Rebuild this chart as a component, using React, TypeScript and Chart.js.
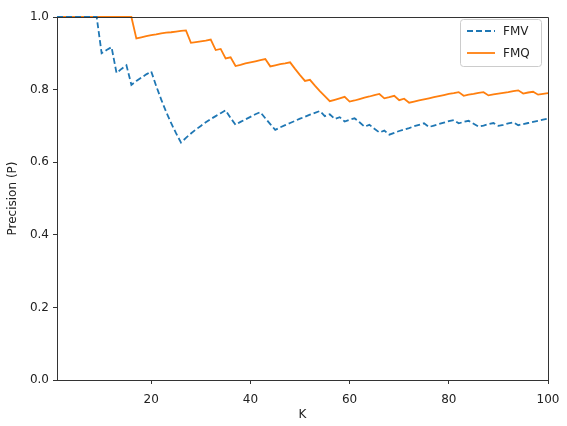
import React, { useEffect, useRef } from 'react';
import { Chart, registerables } from 'chart.js';

Chart.register(...registerables);

const kValues = [
  1, 2, 3, 4, 5, 6, 7, 8, 9, 10, 11, 12, 13, 14, 15, 16, 17, 18, 19, 20,
  21, 22, 23, 24, 25, 26, 27, 28, 29, 30, 31, 32, 33, 34, 35, 36, 37, 38, 39, 40,
  41, 42, 43, 44, 45, 46, 47, 48, 49, 50, 51, 52, 53, 54, 55, 56, 57, 58, 59, 60,
  61, 62, 63, 64, 65, 66, 67, 68, 69, 70, 71, 72, 73, 74, 75, 76, 77, 78, 79, 80,
  81, 82, 83, 84, 85, 86, 87, 88, 89, 90, 91, 92, 93, 94, 95, 96, 97, 98, 99, 100,
];

const fmvValues = [
  1, 1, 1, 1, 1, 1, 1, 1, 1, 0.9,
  0.909, 0.917, 0.846, 0.857, 0.867, 0.813, 0.824, 0.833, 0.842, 0.85,
  0.81, 0.773, 0.739, 0.708, 0.68, 0.654, 0.667, 0.679, 0.69, 0.7,
  0.71, 0.719, 0.727, 0.735, 0.743, 0.722, 0.703, 0.711, 0.718, 0.725,
  0.732, 0.738, 0.721, 0.705, 0.689, 0.696, 0.702, 0.708, 0.714, 0.72,
  0.725, 0.731, 0.736, 0.741, 0.727, 0.732, 0.719, 0.724, 0.712, 0.717,
  0.721, 0.71, 0.698, 0.703, 0.692, 0.682, 0.687, 0.676, 0.681, 0.686,
  0.69, 0.694, 0.699, 0.703, 0.707, 0.697, 0.701, 0.705, 0.709, 0.713,
  0.716, 0.707, 0.711, 0.714, 0.706, 0.698, 0.701, 0.705, 0.708, 0.7,
  0.703, 0.707, 0.71, 0.702, 0.705, 0.708, 0.711, 0.714, 0.717, 0.72,
];

const fmqValues = [
  1, 1, 1, 1, 1, 1, 1, 1, 1, 1,
  1, 1, 1, 1, 1, 1, 0.941, 0.944, 0.947, 0.95,
  0.952, 0.955, 0.957, 0.958, 0.96, 0.962, 0.963, 0.929, 0.931, 0.933,
  0.935, 0.938, 0.909, 0.912, 0.886, 0.889, 0.865, 0.868, 0.872, 0.875,
  0.878, 0.881, 0.884, 0.864, 0.867, 0.87, 0.872, 0.875, 0.857, 0.84,
  0.824, 0.827, 0.811, 0.796, 0.782, 0.768, 0.772, 0.776, 0.78, 0.767,
  0.77, 0.774, 0.778, 0.781, 0.785, 0.788, 0.776, 0.779, 0.783, 0.771,
  0.775, 0.764, 0.767, 0.77, 0.773, 0.776, 0.779, 0.782, 0.785, 0.788,
  0.79, 0.793, 0.783, 0.786, 0.788, 0.791, 0.793, 0.784, 0.787, 0.789,
  0.791, 0.793, 0.796, 0.798, 0.789, 0.792, 0.794, 0.786, 0.788, 0.79,
];

const xTickValues = [20, 40, 60, 80, 100];
const seriesNames = ['FMV', 'FMQ'];
const seriesColors = ['#1f77b4', '#ff7f0e'];
const seriesDashes: number[][] = [[6, 3], []];

const TEXT_COLOR = '#222';
const AXIS_COLOR = '#333';
const FONT = 'DejaVu Sans';

const framePlugin = {
  id: 'frame',
  afterDraw(chart: any) {
    const { ctx, chartArea } = chart;
    const { left, right, top, bottom } = chartArea;
    ctx.save();
    ctx.strokeStyle = AXIS_COLOR;
    ctx.lineWidth = 1;
    ctx.beginPath();
    ctx.moveTo(Math.round(left), Math.round(top) + 0.5);
    ctx.lineTo(Math.round(right) + 0.5, Math.round(top) + 0.5);
    ctx.lineTo(Math.round(right) + 0.5, Math.round(bottom));
    ctx.stroke();
    ctx.restore();
  },
};

const legendPlugin = {
  id: 'mplLegend',
  afterDraw(chart: any) {
    const { ctx, chartArea } = chart;
    const boxW = 81;
    const boxH = 47;
    const x0 = chartArea.right - boxW - 7;
    const y0 = chartArea.top + 2;
    ctx.save();
    ctx.fillStyle = 'rgba(255,255,255,0.85)';
    ctx.strokeStyle = '#cccccc';
    ctx.lineWidth = 1;
    const r = 3;
    ctx.beginPath();
    ctx.moveTo(x0 + r + 0.5, y0 + 0.5);
    ctx.lineTo(x0 + boxW - r + 0.5, y0 + 0.5);
    ctx.arcTo(x0 + boxW + 0.5, y0 + 0.5, x0 + boxW + 0.5, y0 + r + 0.5, r);
    ctx.lineTo(x0 + boxW + 0.5, y0 + boxH - r + 0.5);
    ctx.arcTo(x0 + boxW + 0.5, y0 + boxH + 0.5, x0 + boxW - r + 0.5, y0 + boxH + 0.5, r);
    ctx.lineTo(x0 + r + 0.5, y0 + boxH + 0.5);
    ctx.arcTo(x0 + 0.5, y0 + boxH + 0.5, x0 + 0.5, y0 + boxH - r + 0.5, r);
    ctx.lineTo(x0 + 0.5, y0 + r + 0.5);
    ctx.arcTo(x0 + 0.5, y0 + 0.5, x0 + r + 0.5, y0 + 0.5, r);
    ctx.closePath();
    ctx.fill();
    ctx.stroke();

    chart.data.datasets.forEach((ds: any, i: number) => {
      const cy = y0 + 12 + i * 22;
      ctx.strokeStyle = ds.borderColor;
      ctx.lineWidth = 1.8;
      ctx.setLineDash(ds.borderDash || []);
      ctx.beginPath();
      ctx.moveTo(x0 + 7, cy);
      ctx.lineTo(x0 + 35, cy);
      ctx.stroke();
      ctx.setLineDash([]);
      ctx.fillStyle = TEXT_COLOR;
      ctx.font = `12px "${FONT}"`;
      ctx.textAlign = 'left';
      ctx.textBaseline = 'middle';
      ctx.fillText(ds.label, x0 + 43, cy + 1);
    });
    ctx.restore();
  },
};

export default function App() {
  const canvasRef = useRef<HTMLCanvasElement | null>(null);

  useEffect(() => {
    if (!canvasRef.current) return;
    const series = [fmvValues, fmqValues];
    const chart = new Chart(canvasRef.current, {
      type: 'line',
      data: {
        datasets: series.map((vals, i) => ({
          label: seriesNames[i],
          data: kValues.map((k, j) => ({ x: k, y: vals[j] })),
          borderColor: seriesColors[i],
          backgroundColor: seriesColors[i],
          borderWidth: 1.8,
          borderDash: seriesDashes[i],
          pointRadius: 0,
          tension: 0,
          fill: false,
          clip: false,
        })),
      },
      options: {
        animation: false,
        responsive: false,
        devicePixelRatio: 1,
        layout: { padding: { left: 0, top: 17, right: 19, bottom: 0 } },
        plugins: {
          legend: { display: false },
          tooltip: { enabled: false },
        },
        scales: {
          x: {
            type: 'linear',
            min: 1,
            max: 100,
            afterFit: (scale: any) => {
              scale.height = 46;
              scale.paddingLeft = 0;
              scale.paddingRight = 0;
            },
            afterBuildTicks: (scale: any) => {
              scale.ticks = xTickValues.map((v) => ({ value: v }));
            },
            grid: {
              drawOnChartArea: false,
              drawTicks: true,
              tickLength: 4,
              color: AXIS_COLOR,
            },
            border: { color: AXIS_COLOR, width: 1 },
            ticks: {
              color: TEXT_COLOR,
              font: { family: FONT, size: 12 },
              padding: 9,
              maxRotation: 0,
              callback: (v: any) => String(v),
            },
            title: {
              display: true,
              text: 'K',
              color: TEXT_COLOR,
              font: { family: FONT, size: 12 },
              padding: { top: 0, bottom: 4 },
            },
          },
          y: {
            type: 'linear',
            min: 0,
            max: 1,
            afterFit: (scale: any) => {
              scale.width = 57;
              scale.paddingTop = 0;
              scale.paddingBottom = 0;
            },
            grid: {
              drawOnChartArea: false,
              drawTicks: true,
              tickLength: 4,
              color: AXIS_COLOR,
            },
            border: { color: AXIS_COLOR, width: 1 },
            ticks: {
              stepSize: 0.2,
              color: TEXT_COLOR,
              font: { family: FONT, size: 12 },
              padding: 4,
              callback: (v: any) => Number(v).toFixed(1),
            },
            title: {
              display: true,
              text: 'Precision (P)',
              color: TEXT_COLOR,
              font: { family: FONT, size: 12 },
              padding: { top: 6, bottom: 0 },
            },
          },
        },
      },
      plugins: [framePlugin, legendPlugin],
    });
    return () => chart.destroy();
  }, []);

  return (
    <div style={{ position: 'fixed', left: 0, top: 0, width: 567, height: 426, background: '#fff' }}>
      <canvas ref={canvasRef} width={567} height={426} style={{ display: 'block' }} />
    </div>
  );
}
